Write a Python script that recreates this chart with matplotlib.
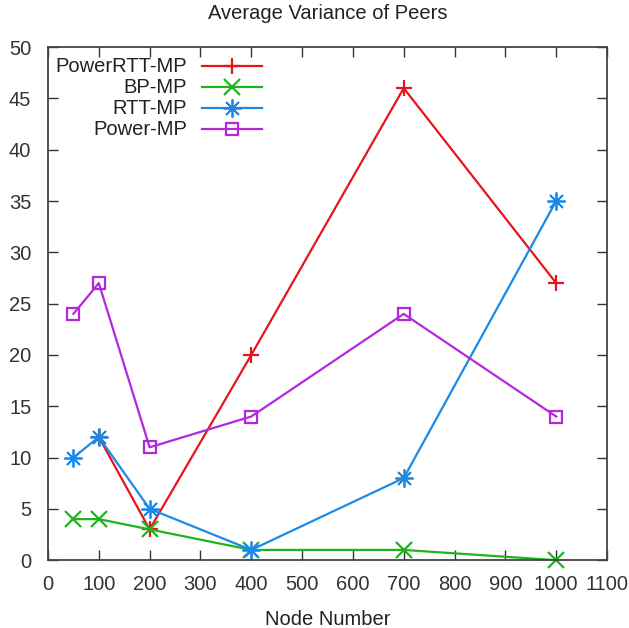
import matplotlib.pyplot as plt
from matplotlib.lines import Line2D

plt.rcParams['font.family'] = ['Liberation Sans', 'DejaVu Sans']

# average variance per node count
power_rtt_x = [100, 200, 400, 700, 1000]
power_rtt_y = [12, 3, 20, 46, 27]

bp_x = [50, 100, 200, 400, 700, 1000]
bp_y = [4, 4, 3, 1, 1, 0]

rtt_x = [50, 100, 200, 400, 700, 1000]
rtt_y = [10, 12, 5, 1, 8, 35]

power_x = [50, 100, 200, 400, 700, 1000]
power_y = [24, 27, 11, 14, 24, 14]

labels = ['PowerRTT-MP', 'BP-MP', 'RTT-MP', 'Power-MP']
colors = ['#e8141c', '#1eb41e', '#1a8ae6', '#b428dc']
markers = ['+', 'x', (8, 2, 0), 's']
msizes = [12, 11, 13, 9]
mews = [1.6, 1.6, 1.3, 1.6]

fig = plt.figure(figsize=(6.29, 6.28), dpi=100)
ax = fig.add_axes([0.0763, 0.108, 0.8887, 0.817])

series = [(power_rtt_x, power_rtt_y), (bp_x, bp_y), (rtt_x, rtt_y), (power_x, power_y)]
for (xs, ys), c, m, ms, mew in zip(series, colors, markers, msizes, mews):
    ax.plot(xs, ys, color=c, lw=1.6, marker=m, markersize=ms,
            markeredgewidth=mew, markerfacecolor='none', markeredgecolor=c, clip_on=False)

ax.set_xlim(0, 1100)
ax.set_ylim(0, 50)
ax.set_xticks(range(0, 1101, 100))
ax.set_yticks(range(0, 51, 5))
ax.tick_params(direction='in', length=7, width=1, top=True, right=True,
               labelsize=14.5, colors='#333333')
ax.tick_params(axis='x', pad=11)
ax.tick_params(axis='y', pad=12)
for s in ax.spines.values():
    s.set_color('#444444')
    s.set_linewidth(1.3)

ax.set_title('Average Variance of Peers', fontsize=14.5, color='#222222', pad=20)
ax.set_xlabel('Node Number', fontsize=14.5, color='#222222', labelpad=11)

# gnuplot-style key: labels right-aligned, samples to the right
rows = [0.963, 0.922, 0.881, 0.840]
for y, lab, c, m, ms, mew in zip(rows, labels, colors, markers, msizes, mews):
    ax.text(0.249, y, lab, transform=ax.transAxes, ha='right', va='center',
            fontsize=14.5, color='#222222')
    ax.add_line(Line2D([0.2755, 0.383], [y, y], transform=ax.transAxes, color=c, lw=1.6))
    ax.add_line(Line2D([0.329], [y], transform=ax.transAxes, color=c, marker=m,
                       markersize=ms, markeredgewidth=mew,
                       markerfacecolor='none', markeredgecolor=c))

fig.savefig('out.png', dpi=100)
